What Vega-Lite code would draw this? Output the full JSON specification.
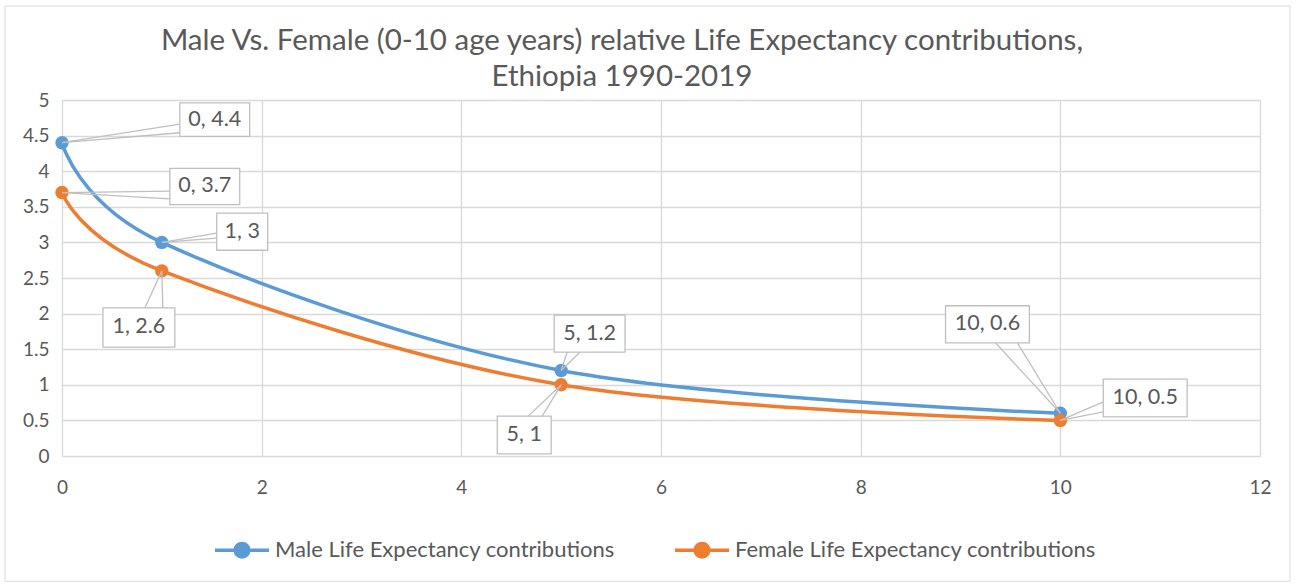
{
  "$schema": "https://vega.github.io/schema/vega-lite/v6.json",
  "width": 1198,
  "height": 356,
  "autosize": {"type": "none"},
  "padding": {"left": 62, "top": 100, "right": 36, "bottom": 129},
  "background": "white",
  "config": {"view": {"stroke": null}, "font": "Lato"},
  "title": {
    "text": ["Male Vs. Female (0-10 age years) relative Life Expectancy contributions,", "Ethiopia 1990-2019"],
    "fontSize": 29.5,
    "fontWeight": "normal",
    "color": "#595959",
    "font": "Lato",
    "anchor": "middle",
    "dx": -39,
    "offset": -87,
    "lineHeight": 36
  },
  "datasets": {
    "main": [
      {"age": 0, "value": 4.4, "series": "Male Life Expectancy contributions"},
      {"age": 1, "value": 3.0, "series": "Male Life Expectancy contributions"},
      {"age": 5, "value": 1.2, "series": "Male Life Expectancy contributions"},
      {"age": 10, "value": 0.6, "series": "Male Life Expectancy contributions"},
      {"age": 0, "value": 3.7, "series": "Female Life Expectancy contributions"},
      {"age": 1, "value": 2.6, "series": "Female Life Expectancy contributions"},
      {"age": 5, "value": 1.0, "series": "Female Life Expectancy contributions"},
      {"age": 10, "value": 0.5, "series": "Female Life Expectancy contributions"}
    ]
  },
  "layer": [
    {
      "data": {"name": "main"},
      "encoding": {
        "x": {
          "field": "age",
          "type": "quantitative",
          "scale": {"domain": [0, 12], "nice": false, "zero": false},
          "axis": {
            "title": null,
            "values": [0, 2, 4, 6, 8, 10, 12],
            "tickCount": 40,
            "format": "~g",
            "grid": true,
            "gridColor": "#d9d9d9",
            "gridWidth": 1.3,
            "domain": false,
            "ticks": false,
            "labelPadding": 22,
            "labelFontSize": 19,
            "labelColor": "#595959",
            "labelFont": "Lato",
            "labelFlush": false,
            "labelOverlap": false
          }
        },
        "y": {
          "field": "value",
          "type": "quantitative",
          "scale": {"domain": [0, 5], "nice": false},
          "axis": {
            "title": null,
            "values": [0, 0.5, 1, 1.5, 2, 2.5, 3, 3.5, 4, 4.5, 5],
            "tickCount": 40,
            "format": "~g",
            "grid": true,
            "gridColor": "#d9d9d9",
            "gridWidth": 1.3,
            "domain": false,
            "ticks": false,
            "labelPadding": 13,
            "labelFontSize": 19,
            "labelColor": "#595959",
            "labelFont": "Lato",
            "labelOverlap": false
          }
        },
        "color": {
          "field": "series",
          "type": "nominal",
          "scale": {
            "domain": ["Male Life Expectancy contributions", "Female Life Expectancy contributions"],
            "range": ["#5B9BD5", "#ED7D31"]
          },
          "legend": {
            "orient": "none",
            "legendX": 151,
            "legendY": 421,
            "direction": "horizontal",
            "title": null,
            "symbolType": "M-1,0H1M0.25,0A0.25,0.25,0,1,1,-0.25,0A0.25,0.25,0,1,1,0.25,0Z",
            "symbolSize": 2916,
            "symbolStrokeWidth": 3.5,
            "labelFontSize": 22,
            "labelColor": "#595959",
            "labelFont": "Lato",
            "labelOffset": 4,
            "labelLimit": 500,
            "columnPadding": 53,
            "encode": {
              "symbols": {
                "update": {
                  "fill": {"scale": "color", "field": "value"},
                  "stroke": {"scale": "color", "field": "value"},
                  "opacity": {"value": 1}
                }
              }
            }
          }
        }
      },
      "layer": [
        {"mark": {"type": "line", "interpolate": "cardinal", "strokeWidth": 3.5}},
        {"mark": {"type": "point", "filled": true, "size": 180, "opacity": 1}}
      ]
    },
    {
      "data": {"values": [{}]},
      "layer": [
        {"mark": {"type": "rect", "fill": null, "stroke": "#d9d9d9", "strokeWidth": 1, "clip": false}, "encoding": {"x": {"datum": -0.571}, "x2": {"datum": 12.3}, "y": {"datum": 6.32}, "y2": {"datum": -1.76}}},
        {"mark": {"type": "rule", "color": "#bfbfbf", "strokeWidth": 1.3}, "encoding": {"x": {"datum": 0}, "y": {"datum": 4.4}, "x2": {"datum": 1.18}, "y2": {"datum": 4.66}}},
        {"mark": {"type": "rule", "color": "#bfbfbf", "strokeWidth": 1.3}, "encoding": {"x": {"datum": 0}, "y": {"datum": 4.4}, "x2": {"datum": 1.18}, "y2": {"datum": 4.54}}},
        {"mark": {"type": "rule", "color": "#bfbfbf", "strokeWidth": 1.3}, "encoding": {"x": {"datum": 0}, "y": {"datum": 3.7}, "x2": {"datum": 1.08}, "y2": {"datum": 3.72}}},
        {"mark": {"type": "rule", "color": "#bfbfbf", "strokeWidth": 1.3}, "encoding": {"x": {"datum": 0}, "y": {"datum": 3.7}, "x2": {"datum": 1.08}, "y2": {"datum": 3.61}}},
        {"mark": {"type": "rule", "color": "#bfbfbf", "strokeWidth": 1.3}, "encoding": {"x": {"datum": 1}, "y": {"datum": 3.0}, "x2": {"datum": 1.55}, "y2": {"datum": 3.13}}},
        {"mark": {"type": "rule", "color": "#bfbfbf", "strokeWidth": 1.3}, "encoding": {"x": {"datum": 1}, "y": {"datum": 3.0}, "x2": {"datum": 1.55}, "y2": {"datum": 3.06}}},
        {"mark": {"type": "rule", "color": "#bfbfbf", "strokeWidth": 1.3}, "encoding": {"x": {"datum": 1}, "y": {"datum": 2.6}, "x2": {"datum": 0.83}, "y2": {"datum": 2.08}}},
        {"mark": {"type": "rule", "color": "#bfbfbf", "strokeWidth": 1.3}, "encoding": {"x": {"datum": 1}, "y": {"datum": 2.6}, "x2": {"datum": 1.01}, "y2": {"datum": 2.08}}},
        {"mark": {"type": "rule", "color": "#bfbfbf", "strokeWidth": 1.3}, "encoding": {"x": {"datum": 5}, "y": {"datum": 1.2}, "x2": {"datum": 5.06}, "y2": {"datum": 1.46}}},
        {"mark": {"type": "rule", "color": "#bfbfbf", "strokeWidth": 1.3}, "encoding": {"x": {"datum": 5}, "y": {"datum": 1.2}, "x2": {"datum": 5.19}, "y2": {"datum": 1.46}}},
        {"mark": {"type": "rule", "color": "#bfbfbf", "strokeWidth": 1.3}, "encoding": {"x": {"datum": 5}, "y": {"datum": 1.0}, "x2": {"datum": 4.67}, "y2": {"datum": 0.56}}},
        {"mark": {"type": "rule", "color": "#bfbfbf", "strokeWidth": 1.3}, "encoding": {"x": {"datum": 5}, "y": {"datum": 1.0}, "x2": {"datum": 4.81}, "y2": {"datum": 0.56}}},
        {"mark": {"type": "rule", "color": "#bfbfbf", "strokeWidth": 1.3}, "encoding": {"x": {"datum": 10}, "y": {"datum": 0.6}, "x2": {"datum": 9.35}, "y2": {"datum": 1.59}}},
        {"mark": {"type": "rule", "color": "#bfbfbf", "strokeWidth": 1.3}, "encoding": {"x": {"datum": 10}, "y": {"datum": 0.6}, "x2": {"datum": 9.57}, "y2": {"datum": 1.59}}},
        {"mark": {"type": "rule", "color": "#bfbfbf", "strokeWidth": 1.3}, "encoding": {"x": {"datum": 10}, "y": {"datum": 0.5}, "x2": {"datum": 10.43}, "y2": {"datum": 0.76}}},
        {"mark": {"type": "rule", "color": "#bfbfbf", "strokeWidth": 1.3}, "encoding": {"x": {"datum": 10}, "y": {"datum": 0.5}, "x2": {"datum": 10.43}, "y2": {"datum": 0.62}}},
        {"mark": {"type": "rect", "fill": "white", "stroke": "#bfbfbf", "strokeWidth": 1.3}, "encoding": {"x": {"datum": 1.18}, "x2": {"datum": 1.88}, "y": {"datum": 4.49}, "y2": {"datum": 4.96}}},
        {"mark": {"type": "rect", "fill": "white", "stroke": "#bfbfbf", "strokeWidth": 1.3}, "encoding": {"x": {"datum": 1.08}, "x2": {"datum": 1.78}, "y": {"datum": 3.53}, "y2": {"datum": 4.04}}},
        {"mark": {"type": "rect", "fill": "white", "stroke": "#bfbfbf", "strokeWidth": 1.3}, "encoding": {"x": {"datum": 1.55}, "x2": {"datum": 2.06}, "y": {"datum": 2.89}, "y2": {"datum": 3.41}}},
        {"mark": {"type": "rect", "fill": "white", "stroke": "#bfbfbf", "strokeWidth": 1.3}, "encoding": {"x": {"datum": 0.41}, "x2": {"datum": 1.13}, "y": {"datum": 1.53}, "y2": {"datum": 2.08}}},
        {"mark": {"type": "rect", "fill": "white", "stroke": "#bfbfbf", "strokeWidth": 1.3}, "encoding": {"x": {"datum": 4.93}, "x2": {"datum": 5.64}, "y": {"datum": 1.46}, "y2": {"datum": 1.98}}},
        {"mark": {"type": "rect", "fill": "white", "stroke": "#bfbfbf", "strokeWidth": 1.3}, "encoding": {"x": {"datum": 4.36}, "x2": {"datum": 4.9}, "y": {"datum": 0.03}, "y2": {"datum": 0.56}}},
        {"mark": {"type": "rect", "fill": "white", "stroke": "#bfbfbf", "strokeWidth": 1.3}, "encoding": {"x": {"datum": 8.85}, "x2": {"datum": 9.69}, "y": {"datum": 1.59}, "y2": {"datum": 2.11}}},
        {"mark": {"type": "rect", "fill": "white", "stroke": "#bfbfbf", "strokeWidth": 1.3}, "encoding": {"x": {"datum": 10.43}, "x2": {"datum": 11.27}, "y": {"datum": 0.55}, "y2": {"datum": 1.08}}},
        {"mark": {"type": "text", "fontSize": 21.5, "font": "Lato", "color": "#595959", "align": "center", "baseline": "middle"}, "encoding": {"x": {"datum": 1.53}, "y": {"datum": 4.72}, "text": {"datum": "0, 4.4"}}},
        {"mark": {"type": "text", "fontSize": 21.5, "font": "Lato", "color": "#595959", "align": "center", "baseline": "middle"}, "encoding": {"x": {"datum": 1.43}, "y": {"datum": 3.79}, "text": {"datum": "0, 3.7"}}},
        {"mark": {"type": "text", "fontSize": 21.5, "font": "Lato", "color": "#595959", "align": "center", "baseline": "middle"}, "encoding": {"x": {"datum": 1.805}, "y": {"datum": 3.15}, "text": {"datum": "1, 3"}}},
        {"mark": {"type": "text", "fontSize": 21.5, "font": "Lato", "color": "#595959", "align": "center", "baseline": "middle"}, "encoding": {"x": {"datum": 0.77}, "y": {"datum": 1.805}, "text": {"datum": "1, 2.6"}}},
        {"mark": {"type": "text", "fontSize": 21.5, "font": "Lato", "color": "#595959", "align": "center", "baseline": "middle"}, "encoding": {"x": {"datum": 5.285}, "y": {"datum": 1.72}, "text": {"datum": "5, 1.2"}}},
        {"mark": {"type": "text", "fontSize": 21.5, "font": "Lato", "color": "#595959", "align": "center", "baseline": "middle"}, "encoding": {"x": {"datum": 4.63}, "y": {"datum": 0.295}, "text": {"datum": "5, 1"}}},
        {"mark": {"type": "text", "fontSize": 21.5, "font": "Lato", "color": "#595959", "align": "center", "baseline": "middle"}, "encoding": {"x": {"datum": 9.27}, "y": {"datum": 1.85}, "text": {"datum": "10, 0.6"}}},
        {"mark": {"type": "text", "fontSize": 21.5, "font": "Lato", "color": "#595959", "align": "center", "baseline": "middle"}, "encoding": {"x": {"datum": 10.85}, "y": {"datum": 0.815}, "text": {"datum": "10, 0.5"}}}
      ]
    }
  ]
}
